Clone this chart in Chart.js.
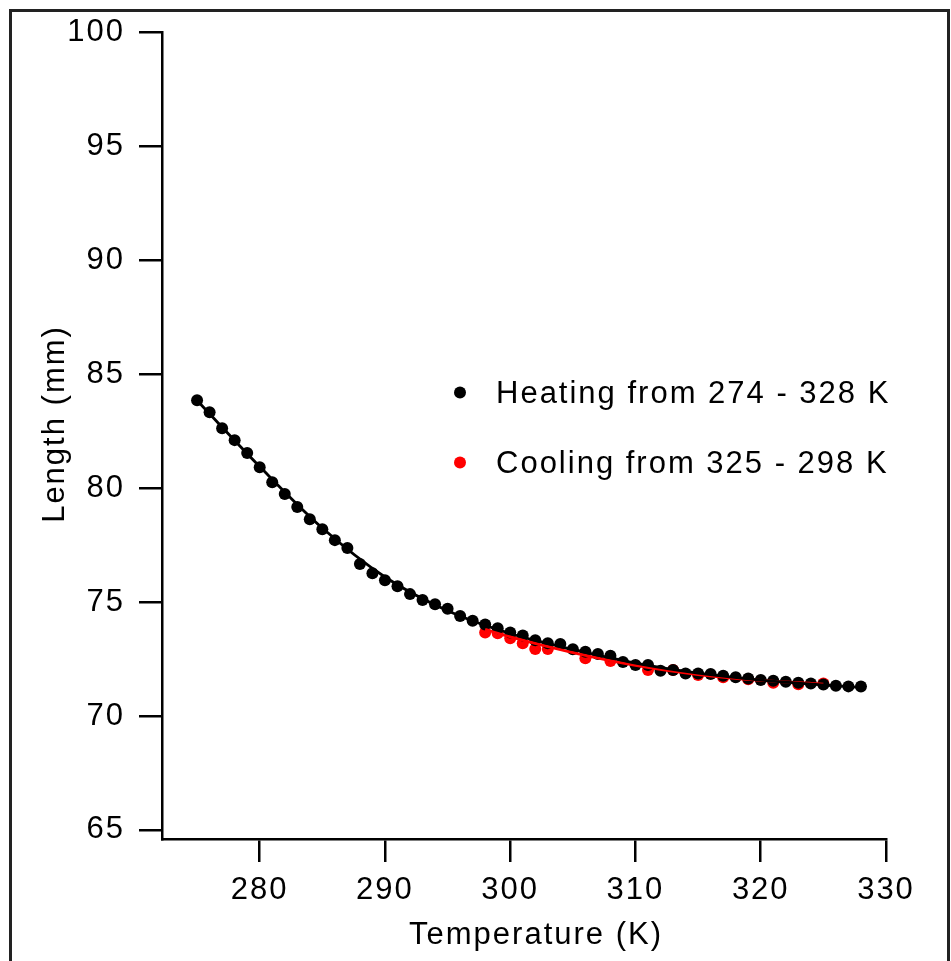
<!DOCTYPE html>
<html>
<head>
<meta charset="utf-8">
<title>Length vs temperature</title>
<script src="https://cdn.jsdelivr.net/npm/chart.js@4.4.1/dist/chart.umd.min.js"></script>
<style>
    html, body { margin: 0; padding: 0; background: #fff; }
    #wrap { width: 951px; height: 961px; }
</style>
</head>
<body>
<div id="wrap"><canvas id="lenChart" width="951" height="961"></canvas></div>
<script>
// ---- data ----
var heatT = [275, 276, 277, 278, 279, 280, 281, 282, 283, 284, 285, 286, 287, 288, 289, 290,
    291, 292, 293, 294, 295, 296, 297, 298, 299, 300, 301, 302, 303, 304, 305, 306, 307, 308,
    309, 310, 311, 312, 313, 314, 315, 316, 317, 318, 319, 320, 321, 322, 323, 324, 325, 326, 327, 328];
var heatL = [83.86, 83.33, 82.63, 82.11, 81.54, 80.92, 80.26, 79.74, 79.17, 78.64, 78.20, 77.72,
    77.37, 76.67, 76.27, 75.96, 75.70, 75.35, 75.09, 74.91, 74.71, 74.39, 74.18, 74.02, 73.85,
    73.67, 73.53, 73.33, 73.19, 73.16, 72.93, 72.82, 72.72, 72.64, 72.37, 72.24, 72.24, 71.99,
    72.02, 71.87, 71.87, 71.84, 71.77, 71.70, 71.65, 71.58, 71.55, 71.50, 71.46, 71.43, 71.38,
    71.33, 71.30, 71.29];

var coolT = [298, 299, 300, 301, 302, 303, 306, 308, 311, 313, 315, 317, 319, 321, 323, 325];
var coolL = [73.66, 73.63, 73.41, 73.19, 72.94, 72.94, 72.53, 72.41, 72.02, 72.02, 71.80,
    71.70, 71.61, 71.46, 71.39, 71.43];

// fitted curves
var heatFitT = [275, 280, 285, 290, 295, 300, 305, 310, 315, 320, 325, 328];
var heatFitL = [83.85, 80.95, 78.25, 76.1, 74.62, 73.62, 72.92, 72.32, 71.88, 71.57, 71.36, 71.26];
var coolFitT = [298, 300, 305, 310, 315, 320, 325];
var coolFitL = [73.8, 73.47, 72.78, 72.22, 71.82, 71.56, 71.4];

var xTicks = [280, 290, 300, 310, 320, 330];
var yTicks = [65, 70, 75, 80, 85, 90, 95, 100];

var legendItems = ['Heating from 274 - 328 K', 'Cooling from 325 - 298 K'];
var xTitle = 'Temperature (K)';
var yTitle = 'Length (mm)';

function pts(xs, ys) {
    return xs.map(function (x, i) { return { x: x, y: ys[i] }; });
}

var FONT = '"Liberation Sans", Arial, sans-serif';

// page frame, spacing of letters, titles and legend
var decor = {
    id: 'decor',
    beforeDraw: function (chart) {
        var ctx = chart.ctx;
        ctx.letterSpacing = '2px';
        ctx.save();
        ctx.fillStyle = '#fff';
        ctx.fillRect(0, 0, chart.width, chart.height);
        ctx.restore();
    },
    afterDraw: function (chart) {
        var ctx = chart.ctx;
        ctx.save();
        ctx.letterSpacing = '2px';
        ctx.strokeStyle = '#222';
        ctx.lineWidth = 3;
        ctx.strokeRect(10.5, 10.5, 938, 1000);

        ctx.fillStyle = '#000';
        ctx.font = '31px ' + FONT;
        ctx.textAlign = 'center';
        ctx.textBaseline = 'alphabetic';
        ctx.fillText(xTitle, 536, 944);

        ctx.save();
        ctx.translate(64, 424);
        ctx.rotate(-Math.PI / 2);
        ctx.fillText(yTitle, 0, 0);
        ctx.restore();

        var colors = ['#000', '#ff0000'];
        var rows = [392.5, 462.5];
        ctx.font = '31px ' + FONT;
        ctx.textAlign = 'left';
        legendItems.forEach(function (txt, i) {
            ctx.fillStyle = colors[i];
            ctx.beginPath();
            ctx.arc(460, rows[i], 6, 0, Math.PI * 2);
            ctx.fill();
            ctx.fillStyle = '#000';
            ctx.fillText(txt, 496, rows[i] + 10.5);
        });
        ctx.restore();
    }
};

var canvas = document.getElementById('lenChart');
new Chart(canvas, {
    type: 'scatter',
    data: {
        datasets: [
            { label: 'heat fit', data: pts(heatFitT, heatFitL), showLine: true, borderColor: '#000',
              borderWidth: 2.8, pointRadius: 0, cubicInterpolationMode: 'monotone', order: 0 },
            { label: 'cool fit', data: pts(coolFitT, coolFitL), showLine: true, borderColor: '#ff0000',
              borderWidth: 2.8, pointRadius: 0, cubicInterpolationMode: 'monotone', order: 1 },
            { label: legendItems[0], data: pts(heatT, heatL), backgroundColor: '#000', borderWidth: 0,
              pointRadius: 6, order: 2 },
            { label: legendItems[1], data: pts(coolT, coolL), backgroundColor: '#ff0000', borderWidth: 0,
              pointRadius: 6, order: 3 }
        ]
    },
    options: {
        responsive: false,
        animation: false,
        devicePixelRatio: 1,
        layout: { padding: { left: 0, top: 32, right: 65, bottom: 0 } },
        plugins: { legend: { display: false }, tooltip: { enabled: false } },
        scales: {
            x: {
                type: 'linear', min: 272.2, max: 330,
                afterBuildTicks: function (s) { s.ticks = xTicks.map(function (v) { return { value: v }; }); },
                afterFit: function (s) { s.height = 122; },
                grid: { drawOnChartArea: false, drawTicks: true, tickLength: 23, color: '#000', lineWidth: 2.5 },
                border: { display: true, color: '#000', width: 2.5 },
                ticks: { color: '#000', font: { family: FONT, size: 31 }, padding: 10, maxRotation: 0 }
            },
            y: {
                type: 'linear', min: 64.6, max: 100,
                afterBuildTicks: function (s) { s.ticks = yTicks.map(function (v) { return { value: v }; }); },
                afterFit: function (s) { s.width = 162; },
                grid: { drawOnChartArea: false, drawTicks: true, tickLength: 23, color: '#000', lineWidth: 2.5 },
                border: { display: true, color: '#000', width: 2.5 },
                ticks: { color: '#000', font: { family: FONT, size: 31 }, padding: 14 }
            }
        }
    },
    plugins: [decor]
});
</script>
</body>
</html>
